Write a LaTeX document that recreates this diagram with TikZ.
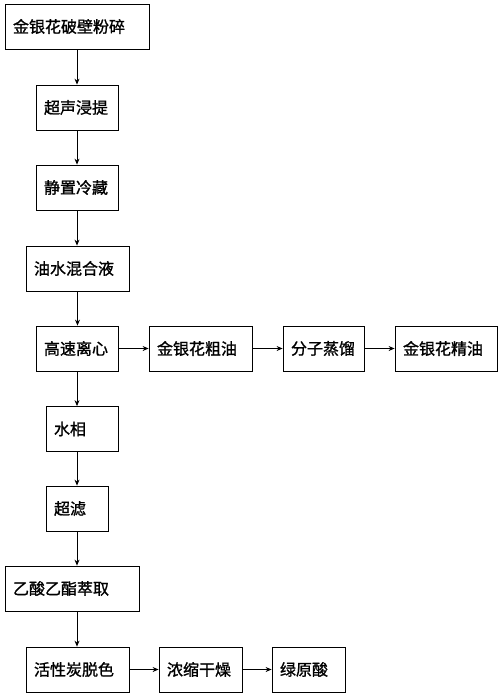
\documentclass[tikz,border=0pt]{standalone}
\usepackage{fontspec}
\newfontfamily\cjk[FakeBold=1.2]{Noto Sans CJK SC}
\usetikzlibrary{arrows.meta}
\begin{document}
\begin{tikzpicture}[x=1pt,y=-1pt,>={Stealth[length=6pt,width=5pt]}]
	\tikzstyle{box}=[draw,line width=0.8pt,minimum height=45pt,inner xsep=8pt,align=left,font=\cjk\fontsize{16}{19}\selectfont]
	\tikzstyle{flow}=[draw,->,line width=0.8pt]
	\useasboundingbox (0,0) rectangle (500,695);
	\begin{scope}
		% main column
		\node [box,text width=128pt] (fensui) at (77,26.5) {金银花破壁粉碎};
		\node [box,text width=66pt] (jinti) at (77,107.5) {超声浸提};
		\node [box,text width=66pt] (lengcang) at (77,187.5) {静置冷藏};
		\node [box,text width=87pt] (hunhe) at (77.5,268.5) {油水混合液};
		\node [box,text width=66pt] (lixin) at (77,348.5) {高速离心};

		% oil branch
		\node [box,text width=87pt] (cuyou) at (200.5,348.5) {金银花粗油};
		\node [box,text width=65pt] (zhengliu) at (323.5,348.5) {分子蒸馏};
		\node [box,text width=86pt] (jingyou) at (446,348.5) {金银花精油};

		% water branch
		\node [box,text width=56pt] (shuixiang) at (82,429) {水相};
		\node [box,text width=46pt] (chaolv) at (77,508.5) {超滤};
		\node [box,text width=118pt] (cuiqu) at (72,588.5) {乙酸乙酯萃取};
		\node [box,text width=87pt] (tuose) at (77.5,669.5) {活性炭脱色};
		\node [box,text width=67pt] (ganzao) at (200.5,669.5) {浓缩干燥};
		\node [box,text width=57pt] (lvyuan) at (308.5,669.5) {绿原酸};

		\path[flow] (fensui.south) to (fensui.south |- jinti.north);
		\path[flow] (jinti.south) to (jinti.south |- lengcang.north);
		\path[flow] (lengcang.south) to (lengcang.south |- hunhe.north);
		\path[flow] (hunhe.south) to (hunhe.south |- lixin.north);
		\path[flow] (lixin) to (cuyou);
		\path[flow] (cuyou) to (zhengliu);
		\path[flow] (zhengliu) to (jingyou);
		\path[flow] (lixin.south) to (lixin.south |- shuixiang.north);
		\path[flow] (lixin.south |- shuixiang.south) to (lixin.south |- chaolv.north);
		\path[flow] (chaolv.south) to (chaolv.south |- cuiqu.north);
		\path[flow] (chaolv.south |- cuiqu.south) to (chaolv.south |- tuose.north);
		\path[flow] (tuose) to (ganzao);
		\path[flow] (ganzao) to (lvyuan);
	\end{scope}
\end{tikzpicture}
\end{document}
